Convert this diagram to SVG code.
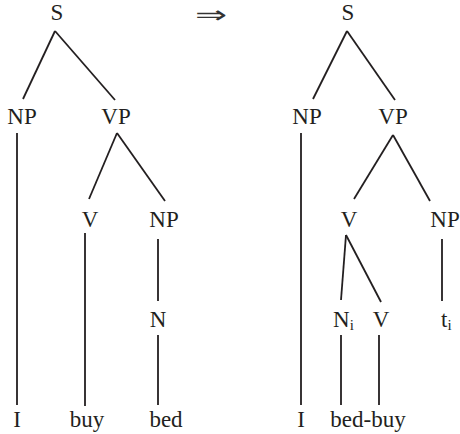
<svg xmlns="http://www.w3.org/2000/svg" width="460" height="434" viewBox="0 0 460 434">
<style>
text{font-family:"Liberation Serif","Times New Roman",serif;font-size:23px;fill:#231f20;text-anchor:middle}
.sub{font-size:15px}
.arr{font-family:"DejaVu Sans",sans-serif;font-size:24px;fill:#333}
#edges line{stroke:#231f20;stroke-width:1.8;stroke-linecap:butt}
</style>
<rect width="460" height="434" fill="#fff"/>
<g id="edges">
<line x1="55" y1="31" x2="23" y2="99"/>
<line x1="55" y1="31" x2="115" y2="100"/>
<line x1="17" y1="133" x2="17" y2="405"/>
<line x1="117" y1="133" x2="89" y2="199"/>
<line x1="117" y1="133" x2="165" y2="201"/>
<line x1="85" y1="233" x2="85" y2="406"/>
<line x1="158" y1="239" x2="158" y2="301"/>
<line x1="158" y1="335" x2="158" y2="405"/>
<line x1="347" y1="31" x2="313" y2="99"/>
<line x1="347" y1="31" x2="395" y2="100"/>
<line x1="301" y1="133" x2="301" y2="405"/>
<line x1="393" y1="135" x2="354" y2="199"/>
<line x1="393" y1="135" x2="430" y2="201"/>
<line x1="346" y1="235" x2="341" y2="300"/>
<line x1="346" y1="235" x2="381" y2="302"/>
<line x1="442" y1="239" x2="442" y2="301"/>
<line x1="341" y1="335" x2="341" y2="405"/>
<line x1="379" y1="335" x2="379" y2="405"/>
</g>
<g id="arrow"><text class="arr" transform="translate(211,23) scale(1.6,1)">⇒</text></g>
<g id="L-S"><text x="57" y="20">S</text></g>
<g id="L-NP"><text x="22" y="124">NP</text></g>
<g id="L-VP"><text x="116" y="124">VP</text></g>
<g id="L-V"><text x="90" y="227">V</text></g>
<g id="L-NP2"><text x="164" y="227">NP</text></g>
<g id="L-N"><text x="158" y="327">N</text></g>
<g id="L-I"><text x="17" y="427">I</text></g>
<g id="L-buy"><text x="87" y="427">buy</text></g>
<g id="L-bed"><text x="166" y="427">bed</text></g>
<g id="R-S"><text x="348" y="20">S</text></g>
<g id="R-NP"><text x="307" y="124">NP</text></g>
<g id="R-VP"><text x="393" y="124">VP</text></g>
<g id="R-V"><text x="349" y="227">V</text></g>
<g id="R-NP2"><text x="445" y="227">NP</text></g>
<g id="R-Ni"><text x="333" y="327" style="text-anchor:start">N<tspan class="sub" dy="3">i</tspan></text></g>
<g id="R-V2"><text x="381" y="327">V</text></g>
<g id="R-t"><text x="441" y="327" style="text-anchor:start">t<tspan class="sub" dy="3">i</tspan></text></g>
<g id="R-I"><text x="301" y="427">I</text></g>
<g id="R-bedbuy"><text x="368" y="427">bed-buy</text></g>
</svg>
